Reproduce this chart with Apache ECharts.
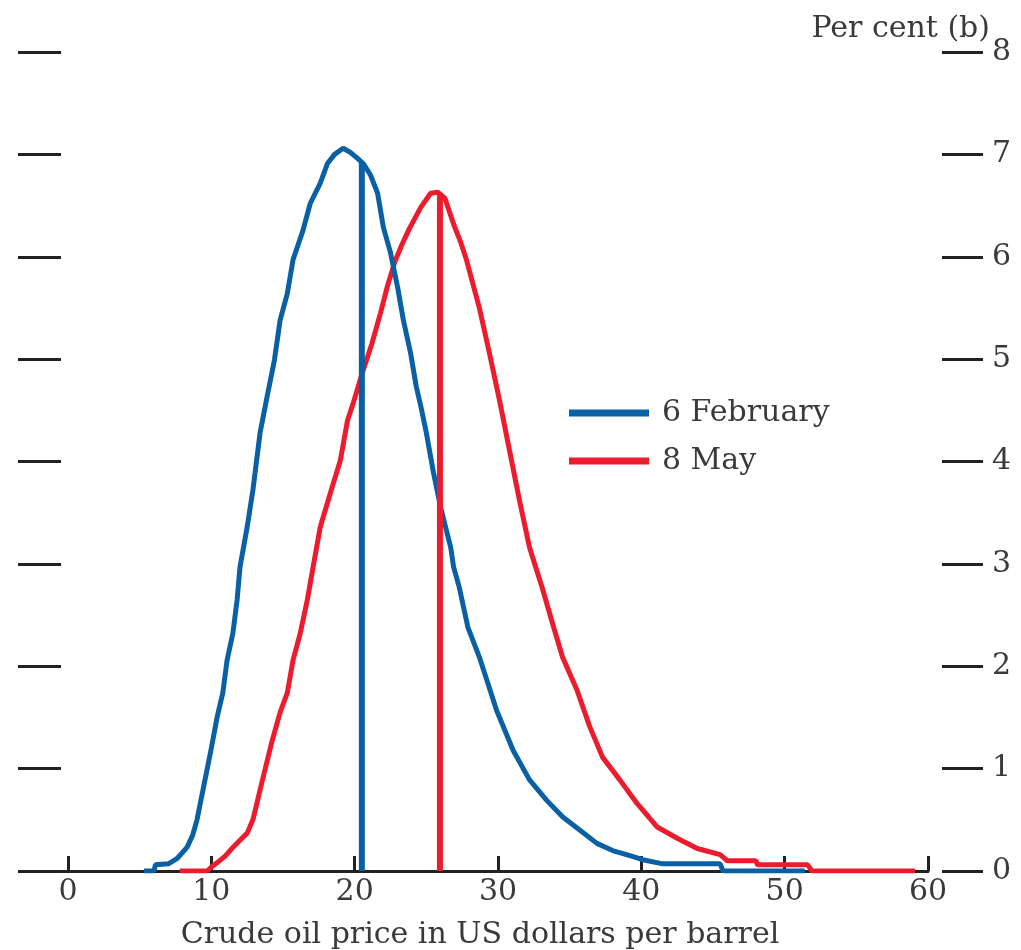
<!DOCTYPE html>
<html><head><meta charset="utf-8">
<script src="https://cdn.jsdelivr.net/npm/echarts@6/dist/echarts.min.js"></script>
<style>html,body{margin:0;padding:0;background:#fff;}#c{width:1021px;height:950px;}</style>
</head><body><div id="c"></div>
<script>
const seriesNames = ['6 February', '8 May'];
const febCurve = [[5.3,0],[6.0,0],[6.1,0.06],[7.0,0.07],[7.6,0.12],[8.3,0.23],[8.7,0.35],[9.0,0.5],[9.5,0.85],[10.0,1.2],[10.4,1.5],[10.8,1.74],[11.1,2.06],[11.5,2.32],[11.8,2.65],[12.0,2.97],[12.5,3.36],[12.9,3.72],[13.4,4.28],[13.9,4.64],[14.4,4.99],[14.8,5.38],[15.3,5.64],[15.7,5.97],[16.4,6.26],[16.9,6.52],[17.6,6.72],[18.1,6.91],[18.6,7.0],[19.2,7.06],[19.7,7.02],[20.2,6.96],[20.6,6.91],[21.1,6.8],[21.6,6.62],[22.0,6.29],[22.5,6.04],[23.0,5.7],[23.4,5.38],[23.9,5.06],[24.3,4.73],[24.6,4.55],[25.0,4.28],[25.5,3.89],[26.0,3.55],[26.7,3.16],[26.9,2.97],[27.3,2.77],[27.9,2.38],[28.7,2.09],[29.9,1.57],[31.05,1.18],[32.2,0.89],[33.4,0.69],[34.5,0.53],[35.7,0.4],[36.9,0.27],[38.0,0.2],[39.2,0.15],[40.1,0.11],[41.5,0.07],[45.5,0.07],[45.7,0],[51.4,0]];
const mayCurve = [[7.8,0],[9.7,0],[10.1,0.05],[10.4,0.08],[11.0,0.15],[11.5,0.23],[12.0,0.3],[12.5,0.37],[12.9,0.5],[13.5,0.85],[14.2,1.25],[14.8,1.55],[15.3,1.74],[15.7,2.06],[16.2,2.32],[16.7,2.65],[17.1,2.97],[17.6,3.36],[18.3,3.69],[19.0,4.01],[19.5,4.4],[19.9,4.57],[20.5,4.85],[21.2,5.15],[21.8,5.45],[22.3,5.72],[22.8,5.95],[23.3,6.12],[23.8,6.27],[24.6,6.48],[25.3,6.62],[25.8,6.63],[26.3,6.57],[26.9,6.32],[27.4,6.14],[27.8,5.97],[28.7,5.5],[29.4,5.06],[30.1,4.6],[30.8,4.11],[31.5,3.62],[32.2,3.16],[33.1,2.76],[33.8,2.42],[34.5,2.09],[35.5,1.77],[36.4,1.41],[37.3,1.11],[38.5,0.89],[39.7,0.66],[41.1,0.43],[42.5,0.32],[43.9,0.22],[45.5,0.16],[46.0,0.1],[48.0,0.1],[48.1,0.06],[51.6,0.06],[51.9,0],[59.1,0]];
const febMarker = [[20.5,0],[20.5,6.92]];
const mayMarker = [[25.95,0],[25.95,6.62]];
const baseTick = [0];
const xTitle = 'Crude oil price in US dollars per barrel';
const yTitle = 'Per cent (b)';

const BLUE = '#0a60a5', RED = '#ec1b2e', INK = '#222', TXT = '#3a3a3a';
const FONT = 'DejaVu Serif';
const FS = 30;
const chart = echarts.init(document.getElementById('c'), null, {renderer:'canvas'});
chart.setOption({
  animation:false,
  backgroundColor:'#fff',
  title:{text:yTitle, right:26, top:9, textStyle:{fontFamily:FONT, fontSize:FS, fontWeight:'normal', color:TXT}},
  legend:{data:seriesNames, orient:'vertical', left:564, top:393, itemWidth:80, itemHeight:7, itemGap:18, icon:'rect',
    textStyle:{fontFamily:FONT, fontSize:FS, color:TXT, padding:[0,0,0,8]}},
  grid:{left:68, right:93, top:52, bottom:79, containLabel:false, outerBoundsMode:'none'},
  xAxis:{type:'value', min:0, max:60, interval:10,
    axisLine:{show:true, onZero:false, lineStyle:{color:INK, width:3}},
    axisTick:{show:true, inside:true, length:15, lineStyle:{color:INK, width:3}},
    axisLabel:{fontFamily:FONT, fontSize:FS, color:TXT, margin:6},
    splitLine:{show:false},
    name:xTitle, nameLocation:'middle', nameGap:49,
    nameTextStyle:{fontFamily:FONT, fontSize:FS, color:TXT, padding:[0,36,0,0]}},
  yAxis:[
    {type:'value', min:0, max:8, interval:1, position:'left', offset:50,
     axisLine:{show:false, onZero:false}, axisTick:{show:true, inside:true, length:43, lineStyle:{color:INK, width:3}},
     axisLabel:{show:false}, splitLine:{show:false}},
    {type:'value', min:0, max:8, interval:1, position:'right', offset:14,
     axisLine:{show:false, onZero:false}, axisTick:{show:true, length:41, lineStyle:{color:INK, width:3}},
     axisLabel:{fontFamily:FONT, fontSize:FS, color:TXT, margin:50}, splitLine:{show:false}},
    {type:'value', min:0, max:8, position:'left', offset:50,
     axisLine:{show:false, onZero:false}, axisTick:{show:true, inside:true, length:50, customValues:baseTick, lineStyle:{color:INK, width:3}},
     axisLabel:{show:false}, splitLine:{show:false}}
  ],
  series:[
    {name:seriesNames[1], type:'line', data:mayCurve, showSymbol:false, lineStyle:{color:RED, width:5}, itemStyle:{color:RED}, z:3},
    {name:seriesNames[0], type:'line', data:febCurve, showSymbol:false, lineStyle:{color:BLUE, width:5}, itemStyle:{color:BLUE}, z:3},
    {name:'febMedian', type:'line', data:febMarker, showSymbol:false, lineStyle:{color:BLUE, width:6}, z:4},
    {name:'mayMedian', type:'line', data:mayMarker, showSymbol:false, lineStyle:{color:RED, width:6}, z:5}
  ]
});
</script></body></html>
